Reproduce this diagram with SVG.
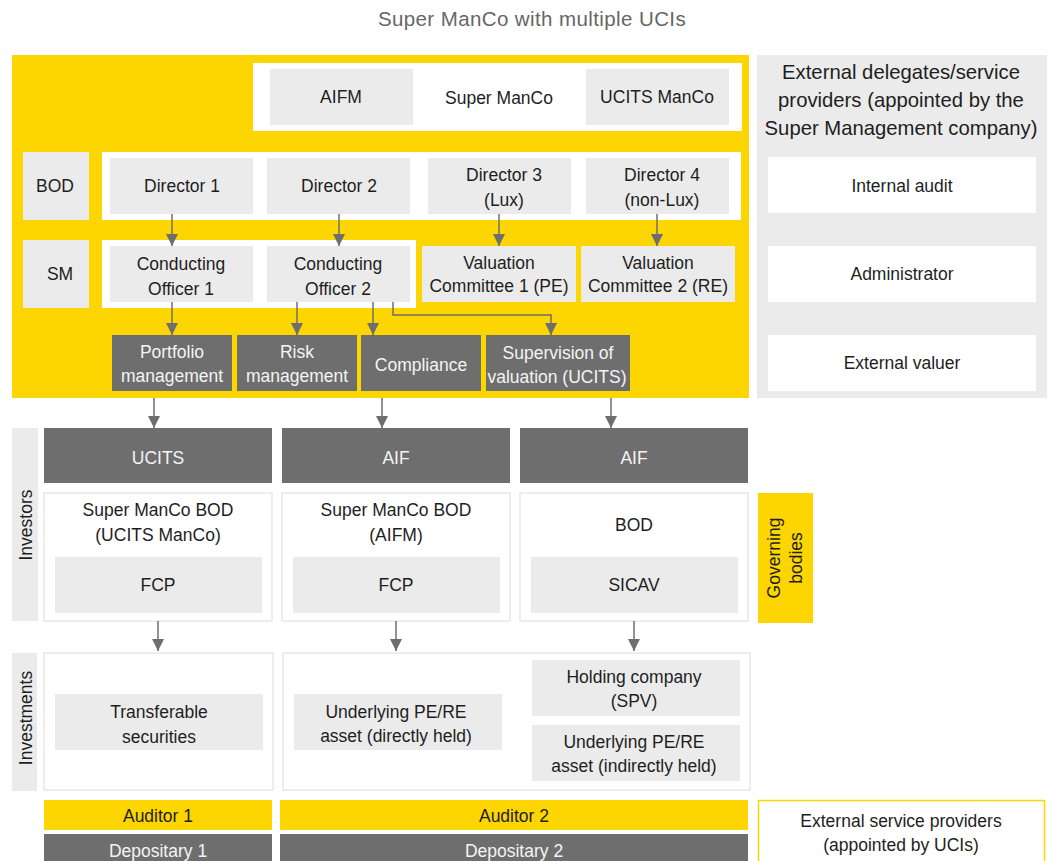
<svg xmlns="http://www.w3.org/2000/svg" width="1051" height="861" viewBox="0 0 1051 861">
<defs>
<marker id="ah" viewBox="0 0 12 12" refX="12" refY="6" markerWidth="12" markerHeight="12" markerUnits="userSpaceOnUse" orient="auto">
<path d="M0,0 L12,6 L0,12 z" fill="#6e6e6e"/>
</marker>
</defs>
<style>
text{font-family:"Liberation Sans",Arial,sans-serif;font-size:17.5px;fill:#1e1e1e;text-anchor:middle;dominant-baseline:central}
.w{fill:#f4f4f4}
.t{fill:#666;font-size:20.5px;letter-spacing:0.4px}
.h{font-size:20.3px}
.yel{fill:#fdd500}
.lg{fill:#ebebeb}
.dg{fill:#6e6e6e}
.wh{fill:#fff}
.wb{fill:#fff;stroke:#e8e8e8;stroke-width:1.5}
.c{fill:none;stroke:#6e6e6e;stroke-width:1.5;marker-end:url(#ah)}
</style>
<rect width="1051" height="861" fill="#fff"/>
<text class="t" x="532" y="18">Super ManCo with multiple UCIs</text>

<g id="superManCoPanel">
<rect class="yel" x="12" y="55" width="737" height="343"/>
<rect class="wh" x="253" y="63" width="489" height="68"/>
<rect class="wh" x="102" y="152" width="639" height="68"/>
<rect class="wh" x="102" y="240" width="314" height="68"/>
</g>
<g id="aifm"><rect class="lg" x="270" y="69" width="143" height="56"/><text x="341" y="97">AIFM</text></g>
<g id="superManCo"><text x="499" y="98">Super ManCo</text></g>
<g id="ucitsManCo"><rect class="lg" x="586" y="69" width="143" height="56"/><text x="657" y="97">UCITS ManCo</text></g>

<g id="bod"><rect class="lg" x="23" y="152" width="66" height="68"/><text x="55" y="186">BOD</text></g>
<g id="sm"><rect class="lg" x="23" y="240" width="66" height="68"/><text x="60" y="274">SM</text></g>

<g id="director1"><rect class="lg" x="110" y="158" width="143" height="56"/><text x="182" y="186">Director 1</text></g>
<g id="director2"><rect class="lg" x="267" y="158" width="143" height="56"/><text x="339" y="186">Director 2</text></g>
<g id="director3"><rect class="lg" x="428" y="158" width="143" height="56"/><text x="504" y="175">Director 3</text><text x="504" y="200">(Lux)</text></g>
<g id="director4"><rect class="lg" x="586" y="158" width="143" height="56"/><text x="662" y="175">Director 4</text><text x="662" y="200">(non-Lux)</text></g>

<g id="co1"><rect class="lg" x="110" y="246" width="143" height="56"/><text x="181" y="264">Conducting</text><text x="181" y="289">Officer 1</text></g>
<g id="co2"><rect class="lg" x="267" y="246" width="143" height="56"/><text x="338" y="264">Conducting</text><text x="338" y="289">Officer 2</text></g>
<g id="vc1"><rect class="lg" x="422" y="246" width="154" height="56"/><text x="499" y="263">Valuation</text><text x="499" y="286">Committee 1 (PE)</text></g>
<g id="vc2"><rect class="lg" x="581" y="246" width="154" height="56"/><text x="658" y="263">Valuation</text><text x="658" y="286">Committee 2 (RE)</text></g>

<g id="portfolio"><rect class="dg" x="112" y="335" width="120" height="56"/><text class="w" x="172" y="352">Portfolio</text><text class="w" x="172" y="376">management</text></g>
<g id="risk"><rect class="dg" x="237" y="335" width="120" height="56"/><text class="w" x="297" y="352">Risk</text><text class="w" x="297" y="376">management</text></g>
<g id="compliance"><rect class="dg" x="361" y="335" width="120" height="56"/><text class="w" x="421" y="365">Compliance</text></g>
<g id="supervision"><rect class="dg" x="486" y="335" width="144" height="56"/><text class="w" x="558" y="353">Supervision of</text><text class="w" x="557" y="377">valuation (UCITS)</text></g>

<g id="externalDelegates">
<rect class="lg" x="757" y="55" width="290" height="343"/>
<text class="h" x="901" y="72">External delegates/service</text>
<text class="h" x="901" y="100">providers (appointed by the</text>
<text class="h" x="901" y="128">Super Management company)</text>
</g>
<g id="internalAudit"><rect class="wh" x="768" y="157" width="268" height="56"/><text x="902" y="186">Internal audit</text></g>
<g id="administrator"><rect class="wh" x="768" y="246" width="268" height="56"/><text x="902" y="274">Administrator</text></g>
<g id="externalValuer"><rect class="wh" x="768" y="335" width="268" height="56"/><text x="902" y="363">External valuer</text></g>

<g id="investorsLabel"><rect class="lg" x="12" y="428" width="26" height="193"/><text transform="translate(26,525) rotate(-90)">Investors</text></g>
<g id="ucits"><rect class="dg" x="44" y="428" width="228" height="55"/><text class="w" x="158" y="458">UCITS</text></g>
<g id="aif1"><rect class="dg" x="282" y="428" width="228" height="55"/><text class="w" x="396" y="458">AIF</text></g>
<g id="aif2"><rect class="dg" x="520" y="428" width="228" height="55"/><text class="w" x="634" y="458">AIF</text></g>

<g id="gov1"><rect class="wb" x="44" y="493" width="228" height="128"/><text x="158" y="510">Super ManCo BOD</text><text x="158" y="535">(UCITS ManCo)</text></g>
<g id="fcp1"><rect class="lg" x="55" y="557" width="207" height="56"/><text x="158" y="585">FCP</text></g>
<g id="gov2"><rect class="wb" x="282" y="493" width="228" height="128"/><text x="396" y="510">Super ManCo BOD</text><text x="396" y="535">(AIFM)</text></g>
<g id="fcp2"><rect class="lg" x="293" y="557" width="207" height="56"/><text x="396" y="585">FCP</text></g>
<g id="gov3"><rect class="wb" x="520" y="493" width="228" height="128"/><text x="634" y="525">BOD</text></g>
<g id="sicav"><rect class="lg" x="531" y="557" width="207" height="56"/><text x="634" y="585">SICAV</text></g>

<g id="governingBodies"><rect class="yel" x="758" y="493" width="55" height="130"/><text transform="translate(774,558) rotate(-90)">Governing</text><text transform="translate(796,558) rotate(-90)">bodies</text></g>

<g id="investmentsLabel"><rect class="lg" x="12" y="653" width="25" height="138"/><text transform="translate(26,718) rotate(-90)">Investments</text></g>
<g id="inv1"><rect class="wb" x="44" y="653" width="229" height="137"/></g>
<g id="transferable"><rect class="lg" x="55" y="694" width="208" height="56"/><text x="159" y="712">Transferable</text><text x="159" y="737">securities</text></g>
<g id="inv2"><rect class="wb" x="283" y="653" width="467" height="137"/></g>
<g id="directAsset"><rect class="lg" x="294" y="694" width="208" height="56"/><text x="396" y="712">Underlying PE/RE</text><text x="396" y="736">asset (directly held)</text></g>
<g id="holding"><rect class="lg" x="532" y="660" width="208" height="56"/><text x="634" y="677">Holding company</text><text x="634" y="701">(SPV)</text></g>
<g id="indirectAsset"><rect class="lg" x="532" y="725" width="208" height="56"/><text x="634" y="742">Underlying PE/RE</text><text x="634" y="766">asset (indirectly held)</text></g>

<g id="auditor1"><rect class="yel" x="44" y="800" width="228" height="30"/><text x="158" y="816">Auditor 1</text></g>
<g id="depositary1"><rect class="dg" x="44" y="834" width="228" height="30"/><text class="w" x="158" y="851">Depositary 1</text></g>
<g id="auditor2"><rect class="yel" x="280" y="800" width="468" height="30"/><text x="514" y="816">Auditor 2</text></g>
<g id="depositary2"><rect class="dg" x="280" y="834" width="468" height="30"/><text class="w" x="514" y="851">Depositary 2</text></g>
<g id="externalServiceProviders"><rect x="758.5" y="800.5" width="286" height="70" fill="#fff" stroke="#fdd500" stroke-width="1.5"/><text x="901" y="821">External service providers</text><text x="901" y="845">(appointed by UCIs)</text></g>

<g id="connectors">
<path class="c" d="M172,214 V246"/>
<path class="c" d="M339,214 V246"/>
<path class="c" d="M499,214 V246"/>
<path class="c" d="M657,214 V246"/>
<path class="c" d="M172,302 V335"/>
<path class="c" d="M297,302 V335"/>
<path class="c" d="M373,302 V335"/>
<path class="c" d="M393,302 V315 H551 V335"/>
<path class="c" d="M154,398 V428"/>
<path class="c" d="M382,398 V428"/>
<path class="c" d="M611,398 V428"/>
<path class="c" d="M158,621 V651"/>
<path class="c" d="M396,621 V651"/>
<path class="c" d="M634,621 V651"/>
</g>
</svg>
